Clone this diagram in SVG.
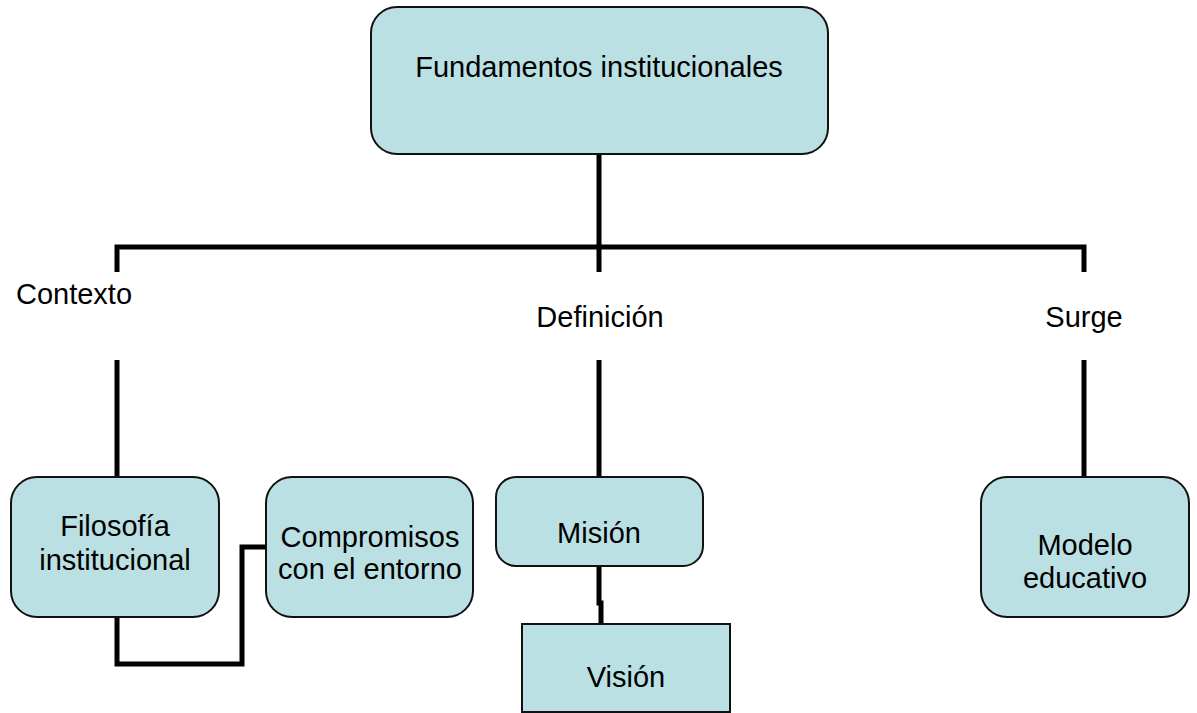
<svg xmlns="http://www.w3.org/2000/svg" width="1197" height="713" viewBox="0 0 1197 713">
<style>
.box{fill:#bae0e3;stroke:#111;stroke-width:2}
.ln{fill:none;stroke:#000;stroke-width:5}
text{font-family:"Liberation Sans",Arial,sans-serif;font-size:29px;fill:#000;text-anchor:middle}
</style>
<rect width="1197" height="713" fill="#fff"/>
<g id="connectors">
<path class="ln" d="M599 154 V272"/>
<path class="ln" d="M117 272 V247 H1084 V272"/>
<path class="ln" d="M117 360 V477"/>
<path class="ln" d="M599 360 V477"/>
<path class="ln" d="M1084 360 V477"/>
<path class="ln" d="M117 617 V664 H242 V547 H266"/>
<path class="ln" d="M599 566 V603 H601 V624"/>
</g>
<g id="n-fundamentos">
<rect class="box" x="371" y="7" width="457" height="147" rx="26"/>
<text x="599" y="77">Fundamentos institucionales</text>
</g>
<g id="l-contexto"><text x="74" y="304">Contexto</text></g>
<g id="l-definicion"><text x="600" y="327">Definición</text></g>
<g id="l-surge"><text x="1084" y="327">Surge</text></g>
<g id="n-filosofia">
<rect class="box" x="11" y="477" width="208" height="140" rx="26"/>
<text x="115" y="536">Filosofía</text>
<text x="115" y="570">institucional</text>
</g>
<g id="n-compromisos">
<rect class="box" x="266" y="477" width="207" height="140" rx="26"/>
<text x="370" y="547">Compromisos</text>
<text x="370" y="579">con el entorno</text>
</g>
<g id="n-mision">
<rect class="box" x="496" y="477" width="207" height="89" rx="20"/>
<text x="599" y="543">Misión</text>
</g>
<g id="n-vision">
<rect class="box" x="522" y="624" width="208" height="88"/>
<text x="626" y="687">Visión</text>
</g>
<g id="n-modelo">
<rect class="box" x="981" y="477" width="208" height="140" rx="26"/>
<text x="1085" y="555">Modelo</text>
<text x="1085" y="588">educativo</text>
</g>
</svg>
